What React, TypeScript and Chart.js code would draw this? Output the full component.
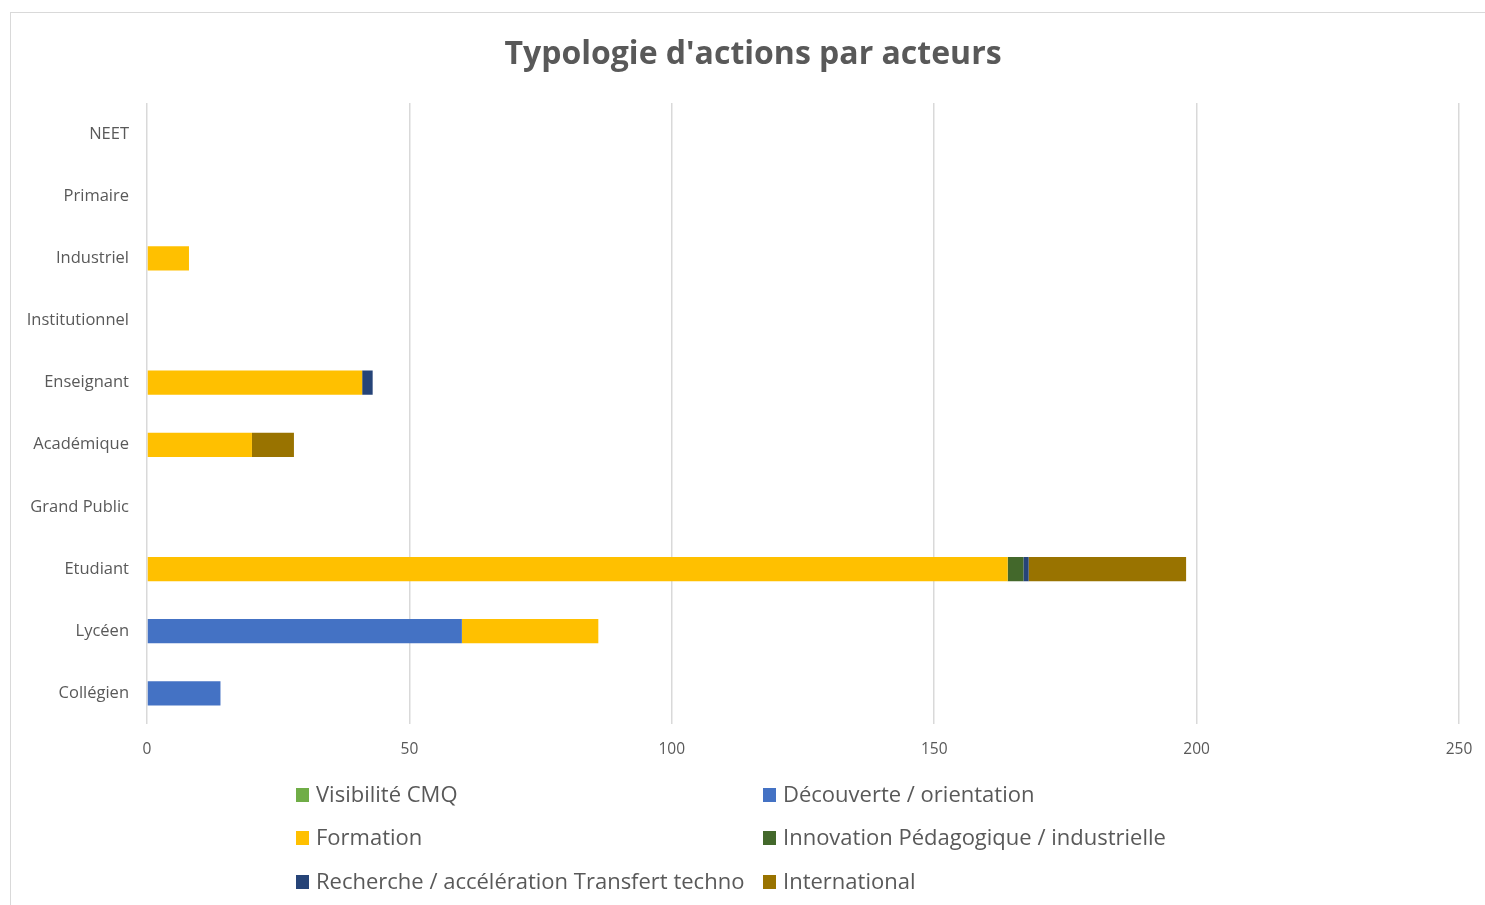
import React, { useEffect, useRef } from "react";
import { Chart, registerables } from "chart.js";

Chart.register(...registerables);

const categories = [
  "NEET",
  "Primaire",
  "Industriel",
  "Institutionnel",
  "Enseignant",
  "Académique",
  "Grand Public",
  "Etudiant",
  "Lycéen",
  "Collégien",
];

const seriesNames = [
  "Visibilité CMQ",
  "Découverte / orientation",
  "Formation",
  "Innovation Pédagogique / industrielle",
  "Recherche / accélération Transfert techno",
  "International",
];

const visibilite = [0, 0, 0, 0, 0, 0, 0, 0, 0, 0];
const decouverte = [0, 0, 0, 0, 0, 0, 0, 0, 60, 14];
const formation = [0, 0, 8, 0, 41, 20, 0, 164, 26, 0];
const innovation = [0, 0, 0, 0, 0, 0, 0, 3, 0, 0];
const recherche = [0, 0, 0, 0, 2, 0, 0, 1, 0, 0];
const international = [0, 0, 0, 0, 0, 8, 0, 30, 0, 0];

const xTicks = [0, 50, 100, 150, 200, 250];

const titleText = "Typologie d'actions par acteurs";

const colors = ["#70AD47", "#4472C4", "#FFC000", "#43682B", "#264478", "#997300"];

const FONT = "'Open Sans', 'DejaVu Sans', sans-serif";
const TEXT = "#595959";

const decorPlugin = {
  id: "decor",
  afterDraw(chart: any) {
    const ctx = chart.ctx;
    ctx.save();
    // title
    ctx.font = `bold 32px ${FONT}`;
    ctx.fillStyle = TEXT;
    ctx.textAlign = "center";
    ctx.textBaseline = "middle";
    ctx.fillText(titleText, 742, 42);
    // legend
    const cols = [285, 752];
    const rows = [782, 825, 869];
    ctx.font = `22px ${FONT}`;
    ctx.textAlign = "left";
    chart.data.datasets.forEach((ds: any, i: number) => {
      const x = cols[i % 2];
      const y = rows[Math.floor(i / 2)];
      ctx.fillStyle = ds.backgroundColor;
      ctx.fillRect(x, y - 7, 13, 14);
      ctx.fillStyle = TEXT;
      ctx.fillText(ds.label, x + 20, y + 1);
    });
    ctx.restore();
  },
};

export default function App() {
  const ref = useRef<HTMLCanvasElement>(null);
  useEffect(() => {
    if (!ref.current) return;
    const values = [visibilite, decouverte, formation, innovation, recherche, international];
    const chart = new Chart(ref.current, {
      type: "bar",
      data: {
        labels: categories,
        datasets: seriesNames.map((name, i) => ({
          label: name,
          data: values[i],
          backgroundColor: colors[i],
          borderWidth: 0,
          barPercentage: 0.39,
          categoryPercentage: 1,
        })),
      },
      options: {
        indexAxis: "y",
        animation: false,
        responsive: true,
        maintainAspectRatio: false,
        layout: { padding: { left: 0, right: 39, top: 90, bottom: 130 } },
        plugins: {
          legend: { display: false },
          tooltip: { enabled: false },
          title: { display: false },
        },
        scales: {
          x: {
            stacked: true,
            min: 0,
            max: 250,
            afterBuildTicks: (scale: any) => {
              scale.ticks = xTicks.map((v) => ({ value: v }));
            },
            grid: { color: "#d9d9d9", lineWidth: 1.5, drawTicks: false },
            border: { display: false },
            ticks: {
              color: TEXT,
              font: { family: FONT, size: 15.5 },
              padding: 16,
            },
          },
          y: {
            stacked: true,
            grid: { display: false, drawTicks: false },
            border: { display: false },
            afterFit: (scale: any) => {
              scale.width = 136;
            },
            ticks: {
              color: TEXT,
              font: { family: FONT, size: 16.5 },
              padding: 18,
            },
          },
        },
      },
      plugins: [decorPlugin],
    });
    return () => chart.destroy();
  }, []);

  return (
    <div
      style={{
        position: "absolute",
        left: 0,
        top: 0,
        width: 1485,
        height: 905,
        overflow: "hidden",
        background: "#ffffff",
      }}
    >
      <div
        style={{
          position: "absolute",
          left: 10,
          top: 12,
          width: 1500,
          height: 920,
          border: "1px solid #d9d9d9",
          boxSizing: "border-box",
        }}
      >
        <div style={{ position: "absolute", left: 0, top: 0, width: 1487, height: 892 }}>
          <canvas ref={ref} />
        </div>
      </div>
    </div>
  );
}
